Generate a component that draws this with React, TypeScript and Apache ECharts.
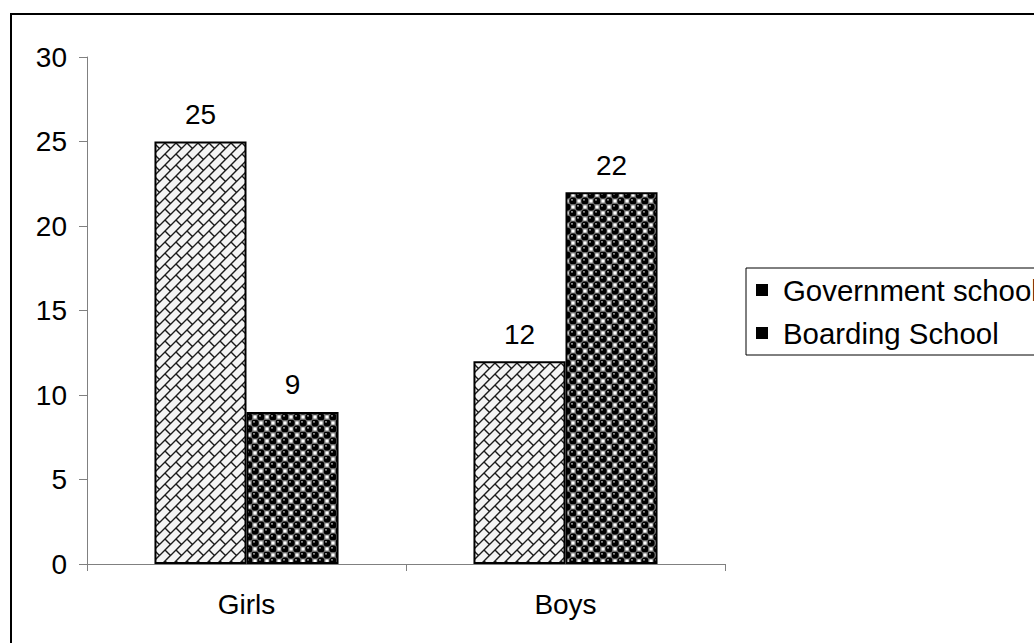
import React, { useEffect, useRef } from "react";
import * as echarts from "echarts";

const categories = ["Girls", "Boys"];
const seriesNames = ["Government school", "Boarding School"];
const governmentValues = [25, 12];
const boardingValues = [9, 22];
const yTicks = { min: 0, max: 30, interval: 5 };

const FONT = "'Liberation Sans', Arial, sans-serif";

const svgUrl = (svg: string) => "data:image/svg+xml;utf8," + encodeURIComponent(svg);

// Light woven brick fill
const weaveTile = svgUrl(
  "<svg xmlns='http://www.w3.org/2000/svg' width='11' height='11'>" +
    "<rect width='11' height='11' fill='#f4f4f4'/>" +
    "<path d='M-1,12 L12,-1 M-1,1 L1,-1 M10,12 L12,10 M0,0 L5.5,5.5' stroke='#1a1a1a' stroke-width='1.4' fill='none'/>" +
    "</svg>"
);

// Dark ball fill
const ballTile = svgUrl(
  "<svg xmlns='http://www.w3.org/2000/svg' width='12' height='12'>" +
    "<rect width='12' height='12' fill='#6a6a6a'/>" +
    "<rect x='7.4' y='1.4' width='3.2' height='3.2' fill='#ffffff'/>" +
    "<rect x='1.4' y='7.4' width='3.2' height='3.2' fill='#ffffff'/>" +
    "<circle cx='3' cy='3' r='3.6' fill='#000'/>" +
    "<circle cx='9' cy='9' r='3.6' fill='#000'/>" +
    "<circle cx='2' cy='1.8' r='0.9' fill='#bdbdbd'/>" +
    "<circle cx='8' cy='7.8' r='0.9' fill='#bdbdbd'/>" +
    "</svg>"
);

const weavePattern = { image: weaveTile, repeat: "repeat", imageWidth: 11, imageHeight: 11 };
const ballPattern = { image: ballTile, repeat: "repeat", imageWidth: 12, imageHeight: 12 };

export default function App() {
  const ref = useRef<HTMLDivElement>(null);

  useEffect(() => {
    if (!ref.current) return;
    const chart = echarts.init(ref.current, undefined, { renderer: "svg" });

    const labelStyle = {
      show: true,
      position: "top",
      distance: 13,
      color: "#000",
      fontSize: 28,
      fontFamily: FONT,
    };

    chart.setOption({
      animation: false,
      backgroundColor: "#fff",
      textStyle: { fontFamily: FONT },
      graphic: [
        {
          type: "rect",
          z: -10,
          shape: { x: 11, y: 14, width: 1100, height: 700 },
          style: { fill: "none", stroke: "#000", lineWidth: 2 },
        },
      ],
      grid: { left: 87, right: 309, top: 57, bottom: 79, containLabel: false },
      legend: {
        orient: "vertical",
        left: 746,
        top: 268,
        padding: [7, 10, 7, 10],
        itemGap: 13,
        itemWidth: 12,
        itemHeight: 12,
        icon: "rect",
        borderColor: "#000",
        borderWidth: 1,
        textStyle: {
          fontSize: 29.4,
          fontFamily: FONT,
          color: "#000",
          lineHeight: 30,
          padding: [0, 0, 0, 10],
        },
        data: seriesNames.map((name) => ({
          name,
          itemStyle: { color: "#000", borderWidth: 0 },
        })),
      },
      xAxis: {
        type: "category",
        data: categories,
        axisLine: { lineStyle: { color: "#808080", width: 1 } },
        axisTick: { show: true, length: 7, lineStyle: { color: "#808080" } },
        axisLabel: { color: "#000", fontSize: 28, fontFamily: FONT, margin: 26 },
        splitLine: { show: false },
      },
      yAxis: {
        type: "value",
        min: yTicks.min,
        max: yTicks.max,
        interval: yTicks.interval,
        axisLine: { show: true, lineStyle: { color: "#808080", width: 1 } },
        axisTick: { show: true, length: 8, lineStyle: { color: "#808080" } },
        axisLabel: { color: "#000", fontSize: 28, fontFamily: FONT, margin: 20 },
        splitLine: { show: false },
      },
      series: [
        {
          name: seriesNames[0],
          type: "bar",
          data: governmentValues,
          barGap: "0%",
          barCategoryGap: "42.3%",
          itemStyle: { color: weavePattern, borderColor: "#000", borderWidth: 2 },
          label: labelStyle,
          emphasis: { disabled: true },
        },
        {
          name: seriesNames[1],
          type: "bar",
          data: boardingValues,
          barGap: "0%",
          barCategoryGap: "42.3%",
          itemStyle: { color: ballPattern, borderColor: "#000", borderWidth: 2 },
          label: labelStyle,
          emphasis: { disabled: true },
        },
      ],
    });

    return () => chart.dispose();
  }, []);

  return (
    <div
      ref={ref}
      style={{ position: "fixed", left: 0, top: 0, width: 1034, height: 643 }}
    />
  );
}
